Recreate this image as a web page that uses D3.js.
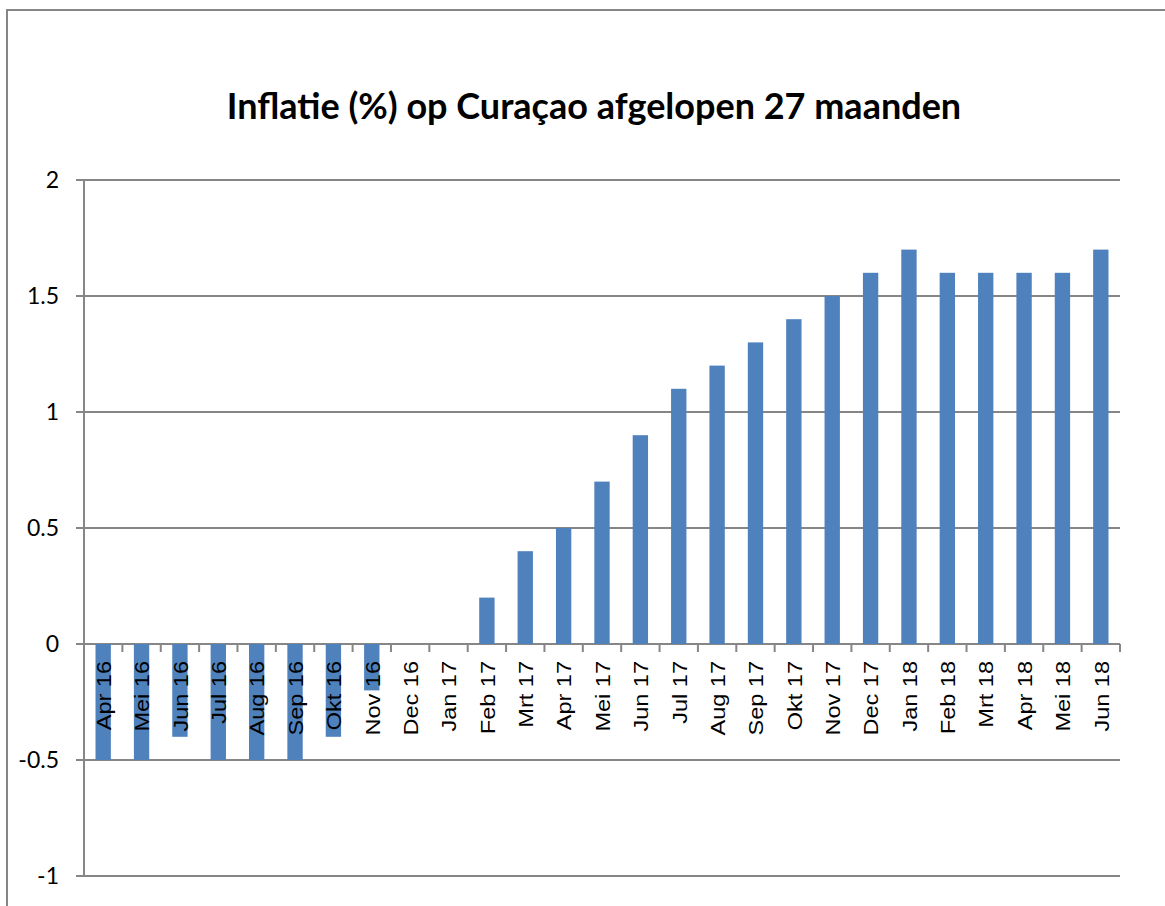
<!DOCTYPE html>
<html>
<head>
<meta charset="utf-8">
<script src="https://cdn.jsdelivr.net/npm/d3@7"></script>
<style>
    body { margin: 0; background: #fff; }
    svg { display: block; }
</style>
</head>
<body>
<div id="chart"></div>
<script>
// maanden en inflatie (%)
const months = ["Apr 16", "Mei 16", "Jun 16", "Jul 16", "Aug 16", "Sep 16", "Okt 16", "Nov 16",
    "Dec 16", "Jan 17", "Feb 17", "Mrt 17", "Apr 17", "Mei 17", "Jun 17", "Jul 17", "Aug 17",
    "Sep 17", "Okt 17", "Nov 17", "Dec 17", "Jan 18", "Feb 18", "Mrt 18", "Apr 18", "Mei 18", "Jun 18"];
const inflation = [-0.5, -0.5, -0.4, -0.5, -0.5, -0.5, -0.4, -0.2,
    0, 0, 0.2, 0.4, 0.5, 0.7, 0.9, 1.1, 1.2,
    1.3, 1.4, 1.5, 1.6, 1.7, 1.6, 1.6, 1.6, 1.6, 1.7];
const yTicks = [-1, -0.5, 0, 0.5, 1, 1.5, 2];
const title = "Inflatie (%) op Curaçao afgelopen 27 maanden";

const width = 1165, height = 906;
const plotLeft = 84, plotRight = 1120, plotTop = 180, plotBottom = 876;
const grey = "#868686";

const svg = d3.select("#chart").append("svg")
    .attr("width", width)
    .attr("height", height);

// kader
svg.append("rect")
    .attr("x", 7).attr("y", 10)
    .attr("width", 1200).attr("height", 1000)
    .attr("fill", "none")
    .attr("stroke", grey)
    .attr("stroke-width", 2);

svg.append("text")
    .attr("x", 594).attr("y", 119)
    .attr("text-anchor", "middle")
    .style("font-family", "Lato, 'Open Sans', sans-serif")
    .style("font-weight", "bold")
    .style("font-size", "36px")
    .text(title);

const x = d3.scaleBand()
    .domain(months)
    .range([plotLeft, plotRight])
    .paddingInner(0.6)
    .paddingOuter(0.3);

const y = d3.scaleLinear()
    .domain([-1, 2])
    .range([plotBottom, plotTop]);

// rasterlijnen
svg.append("g")
    .selectAll("line")
    .data(yTicks)
    .enter().append("line")
    .attr("x1", plotLeft - 8).attr("x2", plotRight)
    .attr("y1", d => y(d)).attr("y2", d => y(d))
    .attr("stroke", grey)
    .attr("stroke-width", 2);

// y-as
svg.append("line")
    .attr("x1", plotLeft).attr("x2", plotLeft)
    .attr("y1", plotTop).attr("y2", plotBottom)
    .attr("stroke", grey)
    .attr("stroke-width", 2);

svg.append("g")
    .selectAll("text")
    .data(yTicks)
    .enter().append("text")
    .attr("x", 59)
    .attr("y", d => y(d))
    .attr("dy", "0.36em")
    .attr("text-anchor", "end")
    .style("font-family", "Lato, 'Open Sans', sans-serif")
    .style("font-size", "23px")
    .text(d => d);

// staven
svg.append("g")
    .selectAll("rect")
    .data(inflation)
    .enter().append("rect")
    .attr("x", (d, i) => x(months[i]))
    .attr("width", x.bandwidth())
    .attr("y", d => y(Math.max(0, d)))
    .attr("height", d => Math.abs(y(d) - y(0)))
    .attr("fill", "#4f81bd");

// x-as tickjes op de grenzen tussen maanden
const step = x.step();
svg.append("g")
    .selectAll("line")
    .data(d3.range(1, months.length + 1))
    .enter().append("line")
    .attr("x1", i => plotLeft + i * step).attr("x2", i => plotLeft + i * step)
    .attr("y1", y(0)).attr("y2", y(0) + 8)
    .attr("stroke", grey)
    .attr("stroke-width", 2);

// labels, gedraaid
svg.append("g")
    .selectAll("text")
    .data(months)
    .enter().append("text")
    .attr("transform", d => "translate(" + (x(d) + x.bandwidth() / 2 + 1) + "," + 661 + ") rotate(-90) scale(1.12,0.92)")
    .attr("dy", "0.35em")
    .attr("text-anchor", "end")
    .style("font-family", "'Liberation Sans', Arial, sans-serif")
    .style("font-size", "21px")
    .text(d => d);
</script>
</body>
</html>
